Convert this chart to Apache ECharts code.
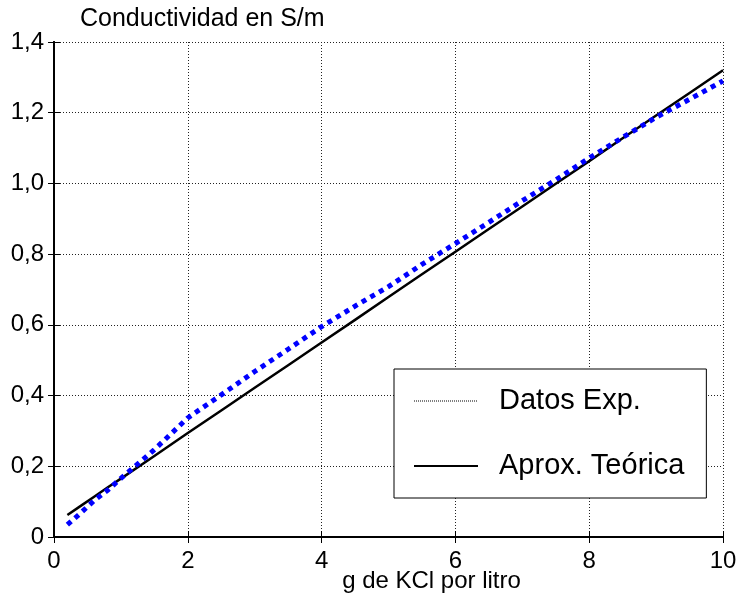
<!DOCTYPE html>
<html>
<head>
<meta charset="utf-8">
<script src="https://cdn.jsdelivr.net/npm/echarts@6/dist/echarts.min.js"></script>
<style>
  html, body { margin: 0; padding: 0; background: #fff; }
  #chart { width: 739px; height: 601px; }
</style>
</head>
<body>
<div id="chart"></div>
<script>
// KCl concentration (g per litre)
const concentration = [0.2, 0.4, 0.6, 0.8, 1.0, 1.5, 2.0, 2.5, 3.0, 3.5, 4.0, 4.5, 5.0, 5.5, 6.0, 6.5, 7.0, 7.5, 8.0, 8.5, 9.0, 9.5, 10.0];
// Measured conductivity (S/m)
const measured = [0.035, 0.068, 0.103, 0.132, 0.166, 0.247, 0.337, 0.402, 0.468, 0.531, 0.595, 0.653, 0.708, 0.771, 0.830, 0.890, 0.951, 1.010, 1.072, 1.130, 1.187, 1.238, 1.290];
// Theoretical approximation (S/m)
const theoretical = [0.062, 0.088, 0.114, 0.140, 0.165, 0.229, 0.294, 0.358, 0.422, 0.486, 0.550, 0.614, 0.679, 0.743, 0.807, 0.871, 0.935, 0.999, 1.063, 1.128, 1.192, 1.256, 1.320];

const xTickLabels = ['0', '2', '4', '6', '8', '10'];
const yTickLabels = ['0', '0,2', '0,4', '0,6', '0,8', '1,0', '1,2', '1,4'];

const seriesNames = ['Datos Exp.', 'Aprox. Teórica'];

const FONT = '"Liberation Sans", Arial, Helvetica, sans-serif';

const pairs = (xs, ys) => xs.map((x, i) => [x, ys[i]]);

const chart = echarts.init(document.getElementById('chart'), null, { renderer: 'canvas' });

const frameLine = { show: true, lineStyle: { color: '#000', width: 2 } };
const innerTick = { show: true, inside: true, length: 6, lineStyle: { color: '#000', width: 1 } };
const gridDots = { show: true, lineStyle: { color: '#222', width: 1, type: [1, 2] } };
const hiddenSymbol = { color: 'rgba(0,0,0,0)', opacity: 0, borderWidth: 0 };

chart.setOption({
  animation: false,
  backgroundColor: '#fff',
  textStyle: { fontFamily: FONT, color: '#000' },
  title: {
    text: 'Conductividad en S/m',
    left: 80,
    top: 7,
    padding: 0,
    textStyle: { fontFamily: FONT, fontSize: 25, fontWeight: 'normal', color: '#000' }
  },
  grid: { left: 54, right: 16, top: 42, bottom: 64, containLabel: false, outerBoundsMode: 'none' },
  legend: {
    orient: 'vertical',
    left: 394,
    top: 369,
    right: 'auto',
    bottom: 'auto',
    padding: [17, 22, 17, 19],
    itemGap: 35,
    itemWidth: 64,
    itemHeight: 14,
    selectedMode: false,
    backgroundColor: '#fff',
    borderColor: '#000',
    borderWidth: 1,
    borderRadius: 0,
    textStyle: { fontFamily: FONT, fontSize: 29, color: '#000', lineHeight: 30, padding: [0, 0, 0, 16] },
    data: [
      { name: seriesNames[0], itemStyle: hiddenSymbol, lineStyle: { color: '#000', width: 1, type: [1, 1] } },
      { name: seriesNames[1], itemStyle: hiddenSymbol, lineStyle: { color: '#000', width: 2 } }
    ]
  },
  xAxis: [
    {
      type: 'value',
      min: 0, max: 10, interval: 2,
      position: 'bottom',
      name: 'g de KCl por litro',
      nameLocation: 'middle',
      nameGap: 32,
      nameMoveOverlap: false,
      nameTextStyle: { fontFamily: FONT, fontSize: 24, color: '#000', padding: [0, 0, 0, 86] },
      axisLine: frameLine,
      axisTick: innerTick,
      axisLabel: {
        margin: 12,
        fontFamily: FONT, fontSize: 24, color: '#000',
        formatter: (v, i) => xTickLabels[i]
      },
      splitLine: gridDots
    },
    {
      type: 'value',
      min: 0, max: 10, interval: 2,
      position: 'top',
      axisLine: frameLine,
      axisTick: innerTick,
      axisLabel: { show: false },
      splitLine: { show: false }
    }
  ],
  yAxis: [
    {
      type: 'value',
      min: 0, max: 1.4, interval: 0.2,
      position: 'left',
      axisLine: frameLine,
      axisTick: innerTick,
      axisLabel: {
        margin: 10,
        padding: [7, 0, 0, 0],
        fontFamily: FONT, fontSize: 24, color: '#000',
        formatter: (v, i) => yTickLabels[i]
      },
      splitLine: gridDots
    },
    {
      type: 'value',
      min: 0, max: 1.4, interval: 0.2,
      position: 'right',
      axisLine: frameLine,
      axisTick: innerTick,
      axisLabel: { show: false },
      splitLine: { show: false }
    }
  ],
  series: [
    {
      name: seriesNames[1],
      type: 'line',
      data: pairs(concentration, theoretical),
      symbol: 'none',
      z: 3,
      itemStyle: { color: '#000' },
      lineStyle: { color: '#000', width: 2.5, cap: 'butt', join: 'round' }
    },
    {
      name: seriesNames[0],
      type: 'line',
      data: pairs(concentration, measured),
      symbol: 'none',
      z: 4,
      itemStyle: { color: '#0000ff' },
      lineStyle: { color: '#0000ff', width: 5, type: [5, 5], cap: 'butt', join: 'miter' }
    }
  ]
});
</script>
</body>
</html>
